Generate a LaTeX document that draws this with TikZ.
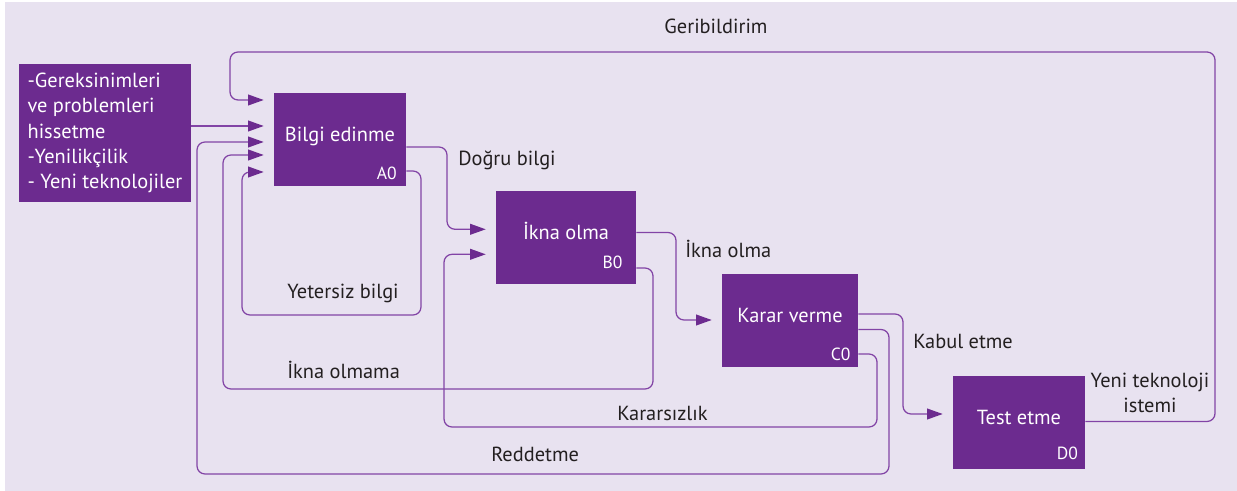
\documentclass[tikz,border=0pt]{standalone}
\usepackage{fontspec}
\setmainfont{PT Sans}
\usetikzlibrary{arrows.meta}
\definecolor{bg}{RGB}{232,226,240}
\definecolor{boxc}{RGB}{108,43,143}
\definecolor{linec}{RGB}{130,68,166}
\definecolor{txt}{RGB}{35,31,32}
\begin{document}
\begin{tikzpicture}[x=0.025cm,y=-0.025cm,
  proc/.style={fill=boxc, text=white, font=\fontsize{14.5}{17}\selectfont, minimum height=2.325cm, inner sep=0pt, text height=0.75em, text depth=0.4em},
  code/.style={text=white, font=\fontsize{12.5}{14}\selectfont, anchor=base east, inner sep=0pt},
  lbl/.style={text=txt, font=\fontsize{14.5}{17}\selectfont, inner sep=0pt, anchor=base west},
  conn/.style={draw=linec, line width=0.9pt, rounded corners=0.2cm},
  arr/.style={conn, -{Triangle[length=0.39cm,width=0.27cm,color=boxc]}, shorten >=0.25cm}
]
\useasboundingbox (0,0) rectangle (1237,491);
\fill[bg] (5,2) rectangle (1237,491);

% boxes
\node[fill=boxc, text=white, font=\fontsize{14.5}{18}\selectfont, minimum width=4.3cm, minimum height=3.45cm, align=left, inner sep=0pt] (in) at (105,133)
  {-Gereksinimleri\\ve problemleri\\hissetme\\-Yenilikçilik\\- Yeni teknolojiler};
\node[proc, minimum width=3.3cm] (A) at (340,139.5) {Bilgi edinme};
\node[proc, minimum width=3.5cm] (B) at (566,237.5) {İkna olma};
\node[proc, minimum width=3.4cm] (C) at (790,320.5) {Karar verme};
\node[proc, minimum width=3.3cm] (D) at (1019,422.5) {Test etme};

\node[code] (Acode) at (397,179.3) {A0};
\node[code] (Bcode) at (622.7,268.3) {B0};
\node[code] (Ccode) at (850.7,361) {C0};
\node[code] (Dcode) at (1078.3,459.3) {D0};

% labels
\node[lbl, anchor=base] (lgeri) at (716,34) {Geribildirim};
\node[lbl] (ldogru) at (458,166) {Doğru bilgi};
\node[lbl] (lyeter) at (287,298.5) {Yetersiz bilgi};
\node[lbl] (likna) at (685,258) {İkna olma};
\node[lbl] (lkabul) at (913,348.3) {Kabul etme};
\node[lbl, anchor=center, align=center, font=\fontsize{14.5}{17.3}\selectfont] (lyeni) at (1150,393) {Yeni teknoloji\\istemi};
\node[lbl] (lolmama) at (287,378.3) {İkna olmama};
\node[lbl] (lkarars) at (617,420) {Kararsızlık};
\node[lbl] (lred) at (491,461.7) {Reddetme};

% connectors
\draw[arr] (D.east |- 0,421.5) -- (1215,421.5) -- (1215,52) -- (230,52) -- (230,100) -- (A.west |- 0,100);
\draw[arr] (in.east |- 0,126) -- (A.west |- 0,126);
\draw[arr] (A.east |- 0,147) -- (447,147) -- (447,229.3) -- (B.west |- 0,229.3);
\draw[arr] (A.east |- 0,171) -- (421,171) -- (421,315) -- (242,315) -- (242,172) -- (A.west |- 0,172);
\draw[arr] (B.east |- 0,232.5) -- (676,232.5) -- (676,320) -- (C.west |- 0,320);
\draw[arr] (B.east |- 0,268) -- (653,268) -- (653,389) -- (223,389) -- (223,155) -- (A.west |- 0,155);
\draw[arr] (C.east |- 0,314) -- (903,314) -- (903,414) -- (D.west |- 0,414);
\draw[arr] (C.east |- 0,329.5) -- (889,329.5) -- (889,474) -- (197,474) -- (197,142) -- (A.west |- 0,142);
\draw[arr] (C.east |- 0,354) -- (877,354) -- (877,427) -- (444,427) -- (444,254.3) -- (B.west |- 0,254.3);
\end{tikzpicture}
\end{document}
